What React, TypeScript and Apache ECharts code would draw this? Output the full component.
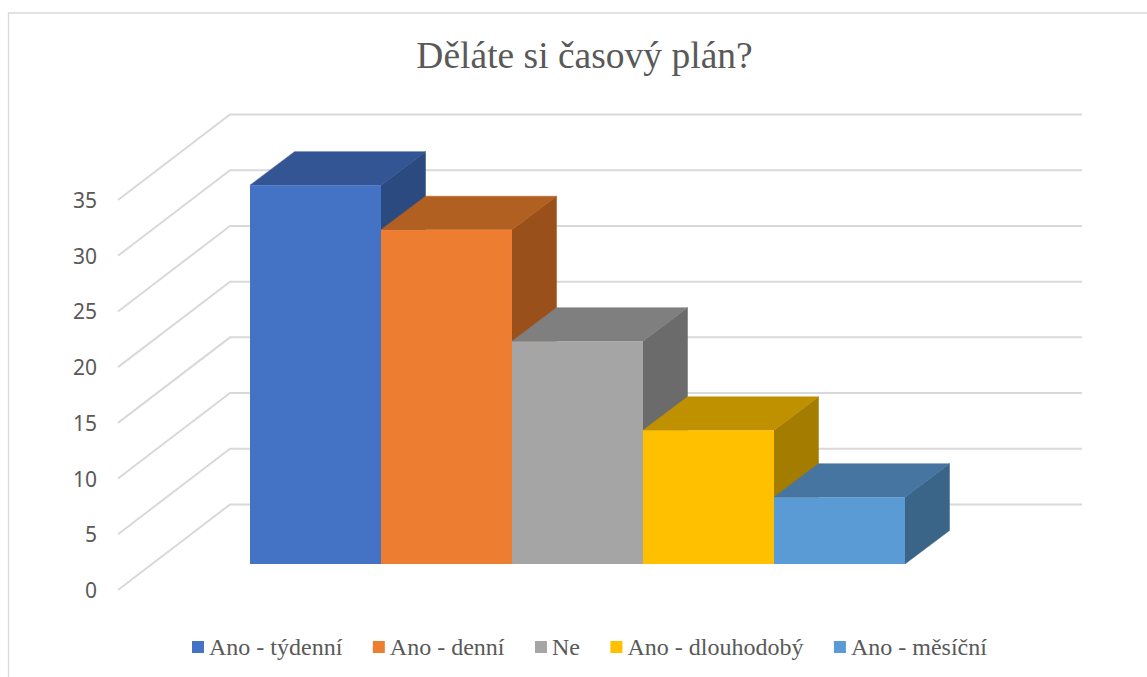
import React, { useEffect, useRef } from "react";
import * as echarts from "echarts";

const chartTitle = "Děláte si časový plán?";
const categories = ["Ano - týdenní", "Ano - denní", "Ne", "Ano - dlouhodobý", "Ano - měsíční"];
const answers = [34, 30, 20, 12, 6];
const wallTicks = [0, 5, 10, 15, 20, 25, 30, 35];

const frontColors = ["#4472c4", "#ed7d31", "#a5a5a5", "#ffc000", "#5b9bd5"];
const topColors = ["#335593", "#b25f22", "#7f7f7f", "#bf9000", "#4575a0"];
const sideColors = ["#2a4a80", "#9a501b", "#6b6b6b", "#a37c00", "#3a6488"];

const WALL_DX = 112;
const WALL_DY = 85.5;
const BAR_DX = 44.5;
const BAR_DY = 33.5;
const GRID_LINE = "#d9d9d9";
const TEXT = "#595959";
const SERIF = '"Liberation Serif", "Times New Roman", serif';

// Floor-to-back-wall gridline: diagonal from the front edge, then flat along the wall.
function renderWallLine(_params: any, api: any) {
  const v = api.value(0);
  const front = api.coord([0, v]);
  const end = api.coord([1, v]);
  return {
    type: "polyline",
    silent: true,
    shape: {
      points: [
        [front[0], front[1]],
        [front[0] + WALL_DX, front[1] - WALL_DY],
        [end[0], front[1] - WALL_DY],
      ],
    },
    style: { fill: "none", stroke: GRID_LINE, lineWidth: 2 },
  };
}

// Extruded column: front face, lit top face and shaded side face.
function makeBarRenderer(index: number) {
  return (_params: any, api: any) => {
    const center = api.coord([api.value(0), api.value(1)]);
    const base = api.coord([api.value(0), 0]);
    const w = api.size([1, 0])[0];
    const l = center[0] - w / 2;
    const r = center[0] + w / 2;
    const t = center[1];
    const b = base[1];
    const sideEdge = { stroke: sideColors[index], lineWidth: 0.5 };
    const topEdge = { stroke: topColors[index], lineWidth: 0.5 };
    return {
      type: "group",
      silent: true,
      children: [
        {
          type: "polygon",
          shape: { points: [[r, t], [r + BAR_DX, t - BAR_DY], [r + BAR_DX, b - BAR_DY], [r, b]] },
          style: { fill: sideColors[index], ...sideEdge },
        },
        {
          type: "polygon",
          shape: { points: [[l, t], [r, t], [r + BAR_DX, t - BAR_DY], [l + BAR_DX, t - BAR_DY]] },
          style: { fill: topColors[index], ...topEdge },
        },
        {
          type: "rect",
          shape: { x: l, y: t, width: w, height: b - t },
          style: { fill: frontColors[index] },
        },
      ],
    };
  };
}

export default function App() {
  const ref = useRef<HTMLDivElement>(null);

  useEffect(() => {
    document.body.style.margin = "0";
    const chart = echarts.init(ref.current!, null, { renderer: "svg" });
    chart.setOption({
      animation: false,
      backgroundColor: "#ffffff",
      title: {
        text: chartTitle,
        left: 579.5,
        top: 31,
        textAlign: "center",
        textStyle: { fontFamily: SERIF, fontSize: 37.5, fontWeight: "normal", color: TEXT },
      },
      legend: {
        left: 187,
        top: 630,
        icon: "rect",
        itemWidth: 12,
        itemHeight: 12,
        itemGap: 30.5,
        selectedMode: false,
        data: categories,
        textStyle: { fontFamily: SERIF, fontSize: 24, color: TEXT, padding: [0, 0, 0, 0] },
      },
      grid: [
        { left: 118, top: 200, width: 964, height: 390 },
        { left: 250, top: 174, width: 655, height: 390 },
      ],
      xAxis: [
        { gridIndex: 0, type: "value", min: 0, max: 1, show: false },
        { gridIndex: 1, type: "category", data: categories, show: false },
      ],
      yAxis: [
        {
          gridIndex: 0,
          type: "value",
          min: 0,
          max: 35,
          interval: 5,
          axisLine: { show: false },
          axisTick: { show: false },
          splitLine: { show: false },
          axisLabel: { margin: 21, fontFamily: '"Noto Sans", sans-serif', fontSize: 21, color: TEXT },
        },
        { gridIndex: 1, type: "value", min: 0, max: 35, interval: 5, show: false },
      ],
      graphic: [
        {
          type: "polyline",
          silent: true,
          z: 0,
          shape: { points: [[1147, 13], [8.5, 13], [8.5, 677]] },
          style: { fill: "none", stroke: GRID_LINE, lineWidth: 1.3 },
        },
      ],
      series: [
        {
          type: "custom",
          name: "mřížka",
          xAxisIndex: 0,
          yAxisIndex: 0,
          clip: false,
          silent: true,
          z: 1,
          renderItem: renderWallLine,
          encode: { y: 0 },
          data: wallTicks.map((v) => [v]),
        },
        ...categories.map((name, i) => ({
          type: "custom",
          name,
          xAxisIndex: 1,
          yAxisIndex: 1,
          clip: false,
          silent: true,
          z: 2,
          itemStyle: { color: frontColors[i] },
          renderItem: makeBarRenderer(i),
          encode: { x: 0, y: 1 },
          data: [[i, answers[i]]],
        })),
      ],
    });
    return () => chart.dispose();
  }, []);

  return <div ref={ref} style={{ width: 1147, height: 677 }} />;
}
